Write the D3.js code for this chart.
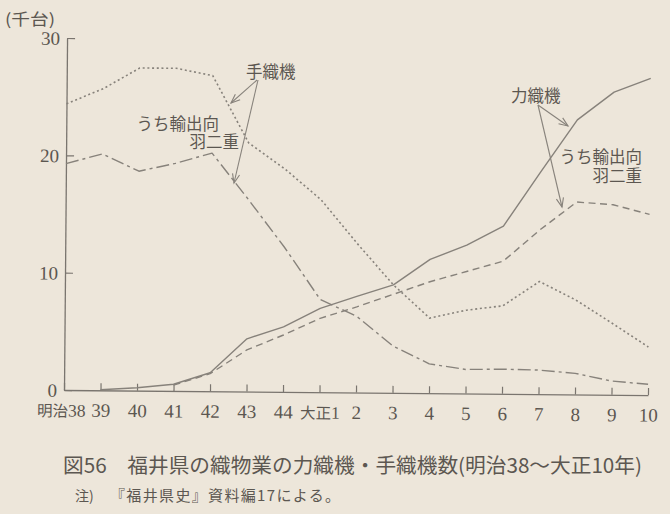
<!DOCTYPE html>
<html><head><meta charset="utf-8">
<script src="https://cdn.jsdelivr.net/npm/d3@7"></script>
<style>html,body{margin:0;padding:0;background:#ede6da;} svg{display:block}</style>
</head><body><svg id="c" width="670" height="514"></svg>
<script>
// ---- data (thousand looms) ----
const years = ["明治38","39","40","41","42","43","44","大正1","2","3","4","5","6","7","8","9","10"];
const powerLooms   = [null,0.05,0.25,0.57,1.58,4.5,5.55,7.15,8.2,9.2,11.4,12.65,14.3,18.9,23.4,25.8,27.0];
const powerExport  = [null,null,null,0.5,1.5,3.55,4.85,6.3,7.3,8.4,9.5,10.4,11.3,14.0,16.4,16.2,15.4];
const handLooms    = [24.4,25.7,27.5,27.5,26.9,21.2,19.0,16.4,12.7,9.2,6.4,7.1,7.5,9.6,8.05,6.1,4.1];
const handExport   = [19.3,20.15,18.7,19.4,20.3,16.4,12.35,7.9,6.5,4.0,2.5,2.05,2.1,2.05,1.8,1.17,0.92];
const yTicks = [0,10,20,30];
const unitLabel = "(千台)";
const caption = "図56　福井県の織物業の力織機・手織機数(明治38～大正10年)";
const noteHead = "注)";
const noteText = "『福井県史』資料編17による。";

const bg = "#ede6da", lineCol = "#87827b", axisCol = "#7a756f", textCol = "#5c5751";
const serif = "Liberation Serif, Times New Roman, Tinos, DejaVu Serif, serif";
const cjk = "Noto Sans CJK JP, Noto Sans, sans-serif";

const svg = d3.select("#c");
svg.append("rect").attr("width",670).attr("height",514).attr("fill",bg);

const defs = svg.append("defs");
defs.append("marker").attr("id","ah").attr("viewBox","-11 -6 13 12")
  .attr("refX",0).attr("refY",0).attr("markerWidth",13).attr("markerHeight",12)
  .attr("markerUnits","userSpaceOnUse").attr("orient","auto")
  .append("path").attr("d","M-9,-3.6L0,0L-9,3.6").attr("fill","none")
  .attr("stroke",lineCol).attr("stroke-width",1.1);

// the scanned chart is rotated ~0.5deg clockwise
const g = svg.append("g").attr("transform","rotate(0.5,64,390)");

const x = d3.scalePoint().domain(d3.range(years.length)).range([64,648]);
const y = d3.scaleLinear().domain([0,30]).range([390,38]);

// x axis
const xa = g.append("g").attr("transform","translate(0,390)")
  .call(d3.axisBottom(x).tickSize(-7).tickSizeOuter(0).tickFormat(i=>years[i]));
xa.attr("font-family",null).attr("font-size",null);
xa.select(".domain").attr("stroke",axisCol).attr("stroke-width",1.3);
xa.selectAll(".tick line").attr("stroke",axisCol).attr("stroke-width",1.2);
xa.selectAll(".tick text").attr("y",26.5).attr("dy",0)
  .attr("fill",textCol).attr("font-family",serif).attr("font-size",19)
  .each(function(){
    const t = d3.select(this), s = t.text();
    const m = s.match(/^([^0-9]+)([0-9]+)$/);
    if(m){
      t.text(null);
      t.append("tspan").attr("font-family",cjk).attr("font-size",15.5).text(m[1]);
      t.append("tspan").attr("font-size",17.5).text(m[2]);
    }
  });
xa.selectAll(".tick").filter((d,i)=>i===0).select("text").attr("x",-3);

// y axis
const ya = g.append("g").attr("transform","translate(64,0)")
  .call(d3.axisLeft(y).tickValues(yTicks).tickSize(-8).tickSizeOuter(0));
ya.attr("font-family",null).attr("font-size",null);
ya.select(".domain").attr("stroke",axisCol).attr("stroke-width",1.3);
ya.selectAll(".tick line").attr("stroke",axisCol).attr("stroke-width",1.2);
ya.selectAll(".tick text").attr("x",-7).attr("dy","0.34em")
  .attr("fill",textCol).attr("font-family",serif).attr("font-size",19);

// lines
const line = d3.line().defined(d=>d!=null).x((d,i)=>x(i)).y(d=>y(d));
const series = [
  {v:handLooms,  dash:"2,2.7", w:1.6},
  {v:handExport, dash:"13,4,3,4", w:1.4},
  {v:powerExport,dash:"7,4.5", w:1.4},
  {v:powerLooms, dash:null, w:1.4}
];
series.forEach(s=>{
  g.append("path").datum(s.v).attr("d",line).attr("fill","none")
   .attr("stroke",lineCol).attr("stroke-width",s.w)
   .attr("stroke-dasharray",s.dash).attr("stroke-linejoin","round");
});

// unit label
svg.append("text").attr("x",5).attr("y",25).attr("textLength",50).attr("lengthAdjust","spacingAndGlyphs")
  .attr("fill",textCol).attr("font-family",cjk).attr("font-size",16).text(unitLabel);

// annotations
const ann = svg.append("g").attr("fill",textCol).attr("font-family",cjk).attr("font-size",16.5);
ann.append("text").attr("x",246).attr("y",78).text("手織機");
ann.append("text").attr("x",219).attr("y",129.5).attr("text-anchor","end").text("うち輸出向");
ann.append("text").attr("x",239).attr("y",148).attr("text-anchor","end").text("羽二重");
ann.append("text").attr("x",511).attr("y",101.5).text("力織機");
ann.append("text").attr("x",642).attr("y",162.5).attr("text-anchor","end").text("うち輸出向");
ann.append("text").attr("x",642).attr("y",181.5).attr("text-anchor","end").text("羽二重");

const arrows = [
  [[257,80],[231,103]],
  [[258,80],[234,183]],
  [[538,105],[568,126]],
  [[538,105],[562,207]]
];
svg.append("g").selectAll("line").data(arrows).join("line")
  .attr("x1",d=>d[0][0]).attr("y1",d=>d[0][1]).attr("x2",d=>d[1][0]).attr("y2",d=>d[1][1])
  .attr("stroke",lineCol).attr("stroke-width",1.1).attr("marker-end","url(#ah)");

// caption
svg.append("text").attr("x",63).attr("y",473).attr("textLength",579).attr("lengthAdjust","spacingAndGlyphs")
  .attr("fill",textCol).attr("font-family",cjk).attr("font-size",20).text(caption);
svg.append("text").attr("x",75).attr("y",501).attr("fill",textCol)
  .attr("font-family",cjk).attr("font-size",14).text(noteHead);
svg.append("text").attr("x",110).attr("y",501).attr("textLength",230).attr("lengthAdjust","spacing")
  .attr("fill",textCol).attr("font-family",cjk).attr("font-size",15).text(noteText);
</script></body></html>
